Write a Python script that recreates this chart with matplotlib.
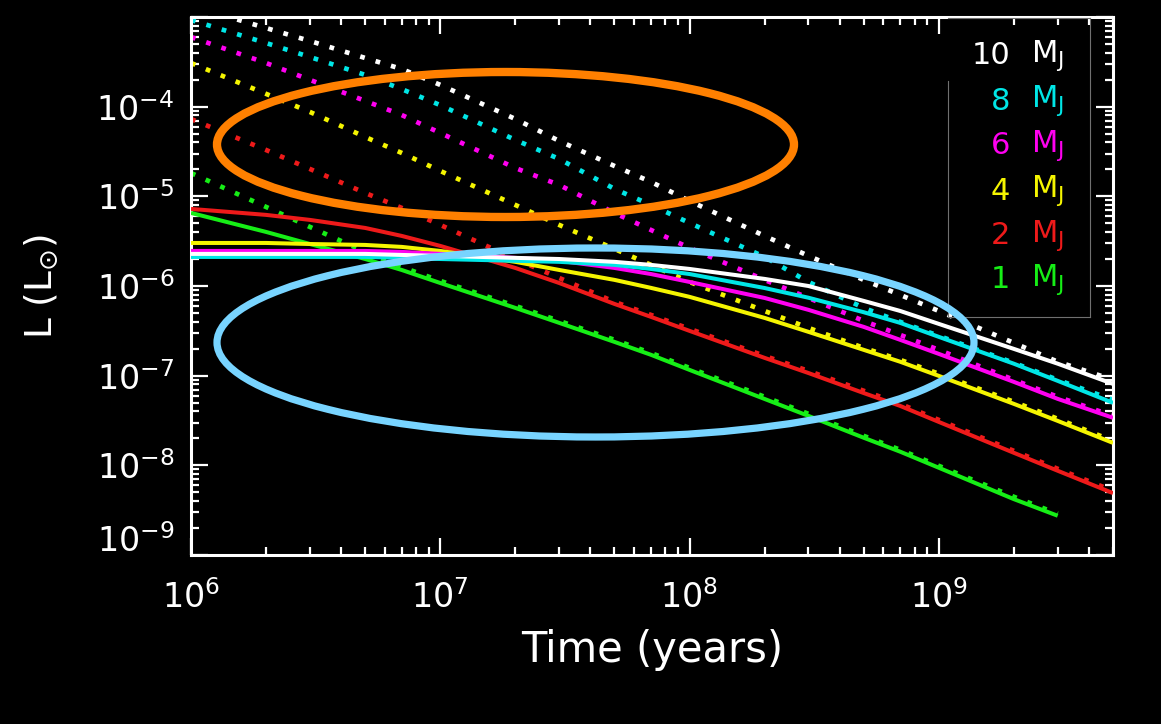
import matplotlib
matplotlib.use('Agg')
import matplotlib.pyplot as plt
from matplotlib.patches import Ellipse
from matplotlib.lines import Line2D
from matplotlib.ticker import LogLocator, NullFormatter, FixedLocator, FixedFormatter

# ---------------- data ----------------
time_yr = [1e6, 2e6, 3e6, 5e6, 7e6, 1e7, 2e7, 3e7, 5e7, 7e7, 1e8,
           2e8, 3e8, 5e8, 7e8, 1e9, 2e9, 3e9, 5e9]

# solid curves
L_10_solid = [2.28e-6, 2.28e-6, 2.28e-6, 2.28e-6, 2.22e-6, 2.17e-6, 2.06e-6, 2.00e-6, 1.86e-6,
              1.72e-6, 1.55e-6, 1.20e-6, 1.00e-6, 6.82e-7, 5.27e-7, 3.78e-7, 1.99e-7, 1.36e-7, 8.1e-8]
L_8_solid = [2.11e-6, 2.11e-6, 2.11e-6, 2.11e-6, 2.06e-6, 2.00e-6, 1.91e-6, 1.86e-6, 1.72e-6,
             1.55e-6, 1.36e-6, 9.5e-7, 7.4e-7, 5.1e-7, 3.88e-7, 2.71e-7, 1.36e-7, 8.75e-8, 4.98e-8]
L_6_solid = [2.46e-6, 2.46e-6, 2.46e-6, 2.46e-6, 2.40e-6, 2.28e-6, 2.06e-6, 1.91e-6, 1.59e-6,
             1.36e-6, 1.11e-6, 7.36e-7, 5.42e-7, 3.50e-7, 2.51e-7, 1.75e-7, 8.53e-8, 5.51e-8, 3.39e-8]
L_4_solid = [3.02e-6, 3.02e-6, 2.94e-6, 2.87e-6, 2.73e-6, 2.46e-6, 1.86e-6, 1.51e-6, 1.17e-6,
             9.53e-7, 7.57e-7, 4.41e-7, 3.08e-7, 1.94e-7, 1.43e-7, 9.95e-8, 4.85e-8, 3.13e-8, 1.78e-8]
L_2_solid = [7.24e-6, 6.21e-6, 5.46e-6, 4.44e-6, 3.62e-6, 2.80e-6, 1.59e-6, 1.08e-6, 6.31e-7,
             4.53e-7, 3.16e-7, 1.58e-7, 1.07e-7, 6.4e-8, 4.6e-8, 3.05e-8, 1.38e-8, 8.7e-9, 4.9e-9]
time_1 = [1e6, 2e6, 3e6, 5e6, 7e6, 1e7, 2e7, 3e7, 5e7, 7e7, 1e8,
          2e8, 3e8, 5e8, 7e8, 1e9, 2e9, 3e9]
L_1_solid = [6.53e-6, 4.01e-6, 2.94e-6, 2.00e-6, 1.51e-6, 1.08e-6, 5.70e-7, 3.88e-7, 2.38e-7,
             1.71e-7, 1.16e-7, 5.5e-8, 3.56e-8, 2.03e-8, 1.42e-8, 9.4e-9, 4.2e-9, 2.74e-9]

# dotted curves
L_10_dotted = [1.33e-3, 7.54e-4, 5.40e-4, 3.49e-4, 2.63e-4, 1.75e-4, 7.29e-5, 4.15e-5, 2.18e-5,
               1.45e-5, 8.89e-6, 3.62e-6, 2.17e-6, 1.17e-6, 7.96e-7, 5.27e-7, 2.32e-7, 1.43e-7, 9.0e-8]
L_8_dotted = [9.26e-4, 5.13e-4, 3.58e-4, 2.26e-4, 1.57e-4, 1.04e-4, 4.26e-5, 2.61e-5, 1.21e-5,
              8.02e-6, 5.05e-6, 2.11e-6, 1.11e-6, 5.70e-7, 3.98e-7, 2.78e-7, 1.39e-7, 8.98e-8, 5.37e-8]
L_6_dotted = [5.98e-4, 3.07e-4, 1.99e-4, 1.16e-4, 8.08e-5, 5.09e-5, 2.07e-5, 1.34e-5, 6.53e-6,
              4.22e-6, 2.66e-6, 1.17e-6, 7.36e-7, 4.08e-7, 2.85e-7, 1.94e-7, 8.98e-8, 5.81e-8, 3.56e-8]
L_4_dotted = [3.07e-4, 1.39e-4, 8.73e-5, 4.59e-5, 3.05e-5, 1.92e-5, 8.02e-6, 4.80e-6, 2.59e-6,
              1.72e-6, 1.11e-6, 5.27e-7, 3.41e-7, 2.04e-7, 1.50e-7, 1.05e-7, 5.11e-8, 3.30e-8, 1.87e-8]
L_2_dotted = [7.29e-5, 3.29e-5, 2.02e-5, 1.09e-5, 7.43e-6, 4.80e-6, 2.00e-6, 1.23e-6, 6.65e-7,
              4.76e-7, 3.33e-7, 1.66e-7, 1.13e-7, 6.78e-8, 4.85e-8, 3.21e-8, 1.45e-8, 9.14e-9, 5.20e-9]
L_1_dotted = [1.82e-5, 7.62e-6, 4.56e-6, 2.40e-6, 1.63e-6, 1.14e-6, 6.00e-7, 4.08e-7, 2.51e-7,
              1.79e-7, 1.22e-7, 5.81e-8, 3.75e-8, 2.13e-8, 1.49e-8, 9.87e-9, 4.46e-9, 2.88e-9]

mass_labels = ['10', '8', '6', '4', '2', '1']
colors = ['#FFFFFF', '#00E6E6', '#FF00F0', '#F5F500', '#EE1A1A', '#16EE16']

x_ticks = [1e6, 1e7, 1e8, 1e9]
x_ticklabels = [r'$\mathregular{10^{6}}$', r'$\mathregular{10^{7}}$',
                r'$\mathregular{10^{8}}$', r'$\mathregular{10^{9}}$']
y_ticks = [1e-9, 1e-8, 1e-7, 1e-6, 1e-5, 1e-4, 1e-3]
y_ticklabels = ['', r'$\mathregular{10^{-8}}$', r'$\mathregular{10^{-7}}$',
                r'$\mathregular{10^{-6}}$', r'$\mathregular{10^{-5}}$',
                r'$\mathregular{10^{-4}}$', '']

# ---------------- figure ----------------
W, H = 1161, 724
fig = plt.figure(figsize=(W / 100, H / 100), dpi=100, facecolor='black')
ax = fig.add_axes([191 / W, 1 - 555 / H, (1113 - 191) / W, (555 - 17) / H])
ax.set_facecolor('black')
ax.set_xscale('log')
ax.set_yscale('log')
ax.set_xlim(1e6, 5e9)
ax.set_ylim(1e-9, 1e-3)

solids = [L_10_solid, L_8_solid, L_6_solid, L_4_solid, L_2_solid, L_1_solid]
dotteds = [L_10_dotted, L_8_dotted, L_6_dotted, L_4_dotted, L_2_dotted, L_1_dotted]
times = [time_yr, time_yr, time_yr, time_yr, time_yr, time_1]

for t, ld, c in zip(times, dotteds, colors):
    ax.plot(t, ld, color=c, lw=3.4, linestyle=(0, (1, 2.4)),
            dash_capstyle='butt', solid_joinstyle='round', zorder=2)
for t, ls, c in reversed(list(zip(times, solids, colors))):
    ax.plot(t, ls, color=c, lw=2.9, solid_capstyle='butt', zorder=3)

# axes styling
for sp in ax.spines.values():
    sp.set_color('white')
    sp.set_linewidth(2.2)
ax.xaxis.set_major_locator(FixedLocator(x_ticks))
ax.xaxis.set_major_formatter(FixedFormatter(x_ticklabels))
ax.yaxis.set_major_locator(FixedLocator(y_ticks))
ax.yaxis.set_major_formatter(FixedFormatter(y_ticklabels))
ax.xaxis.set_minor_locator(LogLocator(base=10, subs=range(2, 10), numticks=20))
ax.yaxis.set_minor_locator(LogLocator(base=10, subs=range(2, 10), numticks=20))
ax.xaxis.set_minor_formatter(NullFormatter())
ax.yaxis.set_minor_formatter(NullFormatter())
ax.tick_params(which='both', direction='in', top=True, right=True, colors='white')
ax.tick_params(which='major', length=12, width=1.6)
ax.tick_params(which='minor', length=6, width=1.6)
ax.tick_params(axis='x', which='major', labelsize=24, pad=18)
ax.tick_params(axis='y', which='major', labelsize=24, pad=12)

# bottom y label sits a little above its tick
ax.annotate(r'$\mathregular{10^{-9}}$', xy=(0, 1e-9), xycoords=('axes fraction', 'data'),
            xytext=(-12, 10), textcoords='offset points', ha='right', va='center',
            color='white', fontsize=24)

ax.set_xlabel('Time (years)', color='white', fontsize=30, labelpad=10)
ax.set_ylabel(r'L (L$_{\odot}$)', color='white', fontsize=27, labelpad=26)

# legend
leg_y = [56, 101, 146, 191, 236, 280]
for lab, c, py in zip(mass_labels, colors, leg_y):
    fig.text(1010 / W, 1 - py / H, lab, color=c, fontsize=22, ha='right', va='center')
    fig.text(1031 / W, 1 - py / H, r'M$_\mathregular{J}$', color=c, fontsize=22,
             ha='left', va='center')

def fx(px):
    return px / W

def fy(py):
    return 1 - py / H

box_col = '#707070'
for (x0, y0, x1, y1) in [(948, 18, 1090, 18), (1090, 18, 1090, 317),
                         (948, 317, 1090, 317), (948, 81, 948, 317)]:
    fig.add_artist(Line2D([fx(x0), fx(x1)], [fy(y0), fy(y1)], color=box_col, lw=0.8,
                          transform=fig.transFigure))

# highlight ellipses
fig.add_artist(Ellipse((fx(505.5), fy(144.5)), 577 / W, 145 / H, fill=False,
                       edgecolor='#FF8000', lw=6.0, transform=fig.transFigure, zorder=10))
fig.add_artist(Ellipse((fx(595.5), fy(342.5)), 757 / W, 189 / H, fill=False,
                       edgecolor='#78D4FF', lw=5.2, transform=fig.transFigure, zorder=10))

fig.savefig('out.png', dpi=100, facecolor='black')
